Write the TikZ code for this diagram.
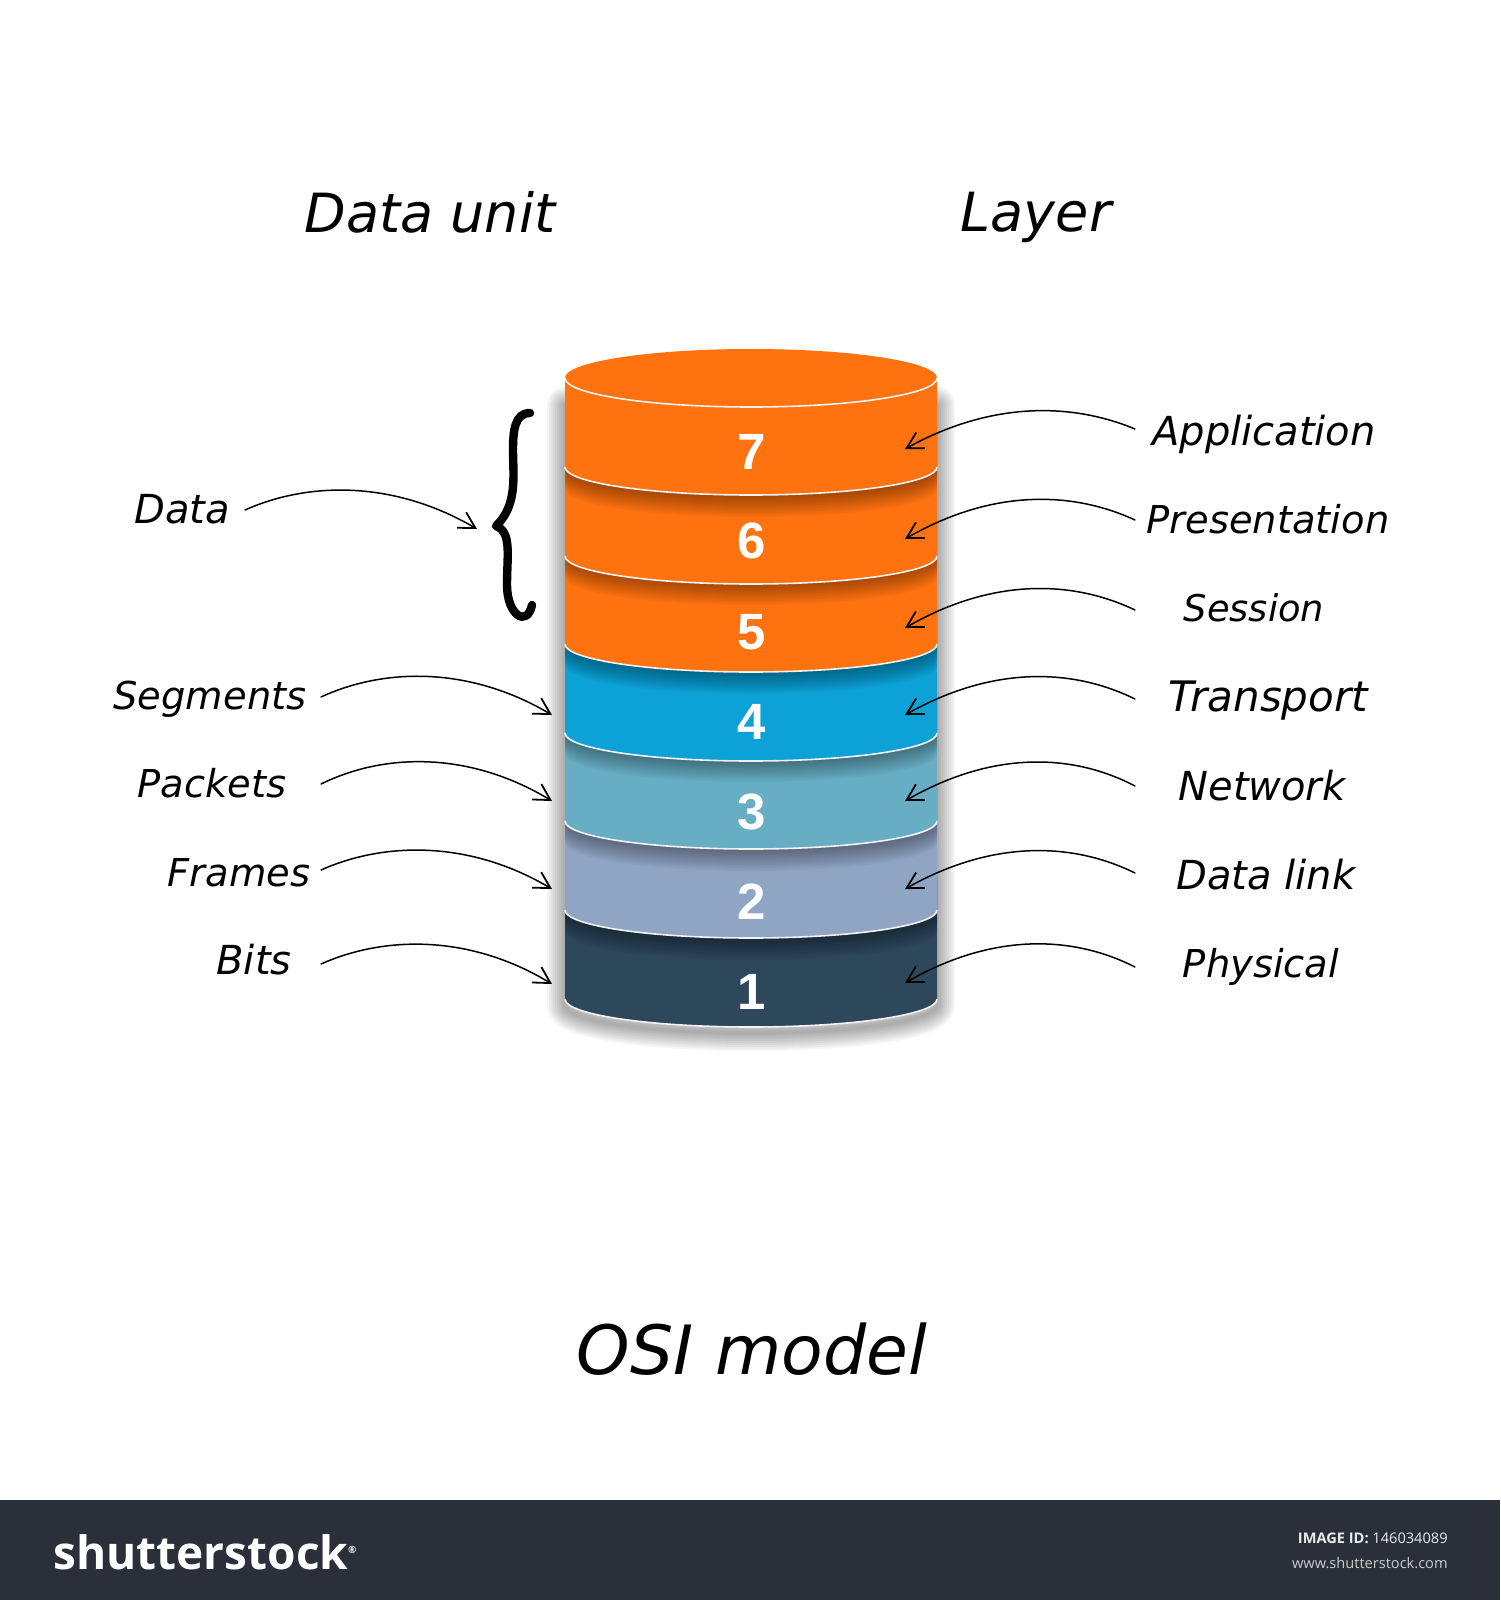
\documentclass[tikz,border=0pt]{standalone}
\usepackage{fontspec}
\setmainfont{Liberation Sans}
\newfontfamily\hand{DejaVu Sans Oblique}
\newfontfamily\logofont{Open Sans}
\usetikzlibrary{arrows.meta}
\definecolor{orangeL}{HTML}{FF7210}
\definecolor{blueL}{HTML}{0CA2D8}
\definecolor{tealL}{HTML}{67AEC4}
\definecolor{lilacL}{HTML}{90A4C4}
\definecolor{darkL}{HTML}{2D475B}
\definecolor{footbar}{HTML}{2A2F3A}
\tikzset{
  x=0.5pt,y=-0.5pt,
  lab/.style={font=\hand\fontsize{20}{24}\selectfont,inner sep=0pt,text=black},
  labS/.style={font=\hand\fontsize{18.4}{24}\selectfont,inner sep=0pt,text=black},
  labM/.style={font=\hand\fontsize{19.2}{24}\selectfont,inner sep=0pt,text=black},
  labL/.style={font=\hand\fontsize{21}{24}\selectfont,inner sep=0pt,text=black},
  head/.style={font=\hand\fontsize{27}{32}\selectfont,inner sep=0pt,text=black},
  num/.style={font=\bfseries\fontsize{25.5}{30}\selectfont,text=white,inner sep=0pt},
  conn/.style={draw=black,line width=0.75pt,line cap=round,
    -{Straight Barb[length=8pt,width=9pt,line width=0.9pt]}},
  rim/.style={draw=white!90!gray,line width=0.8pt}
}
\newcommand{\frontarc}{arc[start angle=180,end angle=360,x radius=93pt,y radius=14pt]}
\newcommand{\rightconn}[4]{% name, start y, control y, tip y
  \coordinate (#1s) at (1135,#2);
  \coordinate (#1t) at (905,#4);
  \draw[conn] (#1s) .. controls (1070,#3) and (990,#3) .. (#1t);
}
\newcommand{\leftconn}[6]{% name, start x, start y, control y, tip x, tip y
  \coordinate (#1s) at (#2,#3);
  \coordinate (#1t) at (#5,#6);
  \draw[conn] (#1s) .. controls (#2+65,#4) and (#2+150,#4) .. (#1t);
}
\begin{document}
\begin{tikzpicture}
\useasboundingbox (0,0) rectangle (1500,1600);
\fill[white] (0,0) rectangle (1500,1600);
% soft shadow of the stack
\foreach \r in {18,16,...,2}{
  \draw[black,opacity=.04,line width=\r pt,line join=round]
    (565,405) -- (565,1005) \frontarc -- (937,405) -- cycle;
}
% layers, bottom first
\foreach \b/\c in {1027/darkL,938/lilacL,849/tealL,761/blueL,672/orangeL,584/orangeL,495/orangeL}{
  \pgfmathsetmacro\e{\b-28}
  \pgfmathsetmacro\t{max(\b-150,378)}
  \fill[\c] (565,\t) -- (565,\e) \frontarc -- (937,\t) -- cycle;
  \begin{scope}
    \clip (565,\t) -- (565,\e) \frontarc -- (937,\t) -- cycle;
    \pgfmathsetmacro\ue{\e-89}
    \ifnum\b=495\relax\else
    \foreach \k in {2,4,...,22}{
      \pgfmathsetmacro\ee{\ue+\k}
      \fill[black,opacity=.035] (565,\t-50) -- (565,\ee) \frontarc -- (937,\t-50) -- cycle;
    }
    \fi
  \end{scope}
  \draw[rim] (565,\e) \frontarc;
}
% top face
\fill[orangeL] (751,378) ellipse[x radius=93pt,y radius=14.5pt];
\draw[rim] (565,378) arc[start angle=180,end angle=360,x radius=93pt,y radius=14.5pt];
% numbers
\node[num] (n7) at (752,452) {7};
\node[num] (n6) at (752,541) {6};
\node[num] (n5) at (752,632) {5};
\node[num] (n4) at (752,722) {4};
\node[num] (n3) at (752,812) {3};
\node[num] (n2) at (752,902) {2};
\node[num] (n1) at (752,992) {1};
% titles
\node[head] (tData) at (430,212) {Data unit};
\node[head] (tLayer) at (1036,217) {Layer};
\node[font=\hand\fontsize{34}{40}\selectfont,inner sep=0pt] (tOSI) at (752,1349) {OSI model};
% right labels
\node[lab] (lApp) at (1264,434) {Application};
\node[labM] (lPre) at (1268,519) {Presentation};
\node[labS] (lSes) at (1254,608) {Session};
\node[labL] (lTra) at (1268,701) {Transport};
\node[lab] (lNet) at (1262,786) {Network};
\node[lab] (lDat) at (1266,875) {Data link};
\node[labM] (lPhy) at (1261,967) {Physical};
% left labels
\node[lab] (uData) at (182,509) {Data};
\node[labM] (uSeg) at (210,699) {Segments};
\node[labM] (uPac) at (212,783) {Packets};
\node[labM] (uFra) at (239,873) {Frames};
\node[lab] (uBit) at (254,960) {Bits};
% right connectors
\rightconn{a}{429}{402}{449}
\rightconn{b}{520}{490}{539}
\rightconn{c}{610}{579}{628}
\rightconn{d}{699}{667}{715}
\rightconn{e}{786}{752}{801}
\rightconn{f}{873}{841}{889}
\rightconn{g}{967}{934}{983}
% left connectors
\leftconn{p}{245}{510}{481}{477}{529}
\leftconn{q}{321}{697}{667}{552}{715}
\leftconn{r}{321}{784}{752}{552}{801}
\leftconn{s}{321}{870}{841}{552}{889}
\leftconn{u}{321}{964}{935}{552}{984}
% brace
\draw[black,line width=4.2pt,line cap=round,line join=round]
  (530,413) .. controls (515,413) and (513,430) .. (513,450)
  .. controls (513,475) and (518,505) .. (496,526)
  .. controls (512,532) and (507,555) .. (507,585)
  .. controls (507,615) and (527,628) .. (532,605);
% footer
\fill[footbar] (0,1500) rectangle (1500,1600);
\node[font=\logofont\bfseries\fontsize{23}{28}\selectfont,text=white,inner sep=0pt,anchor=west] (logo) at (53,1552) {shutterstock\raisebox{8pt}{\fontsize{5}{6}\selectfont®}};
\node[font=\logofont\fontsize{7.3}{10}\selectfont,text=white!92!black,inner sep=0pt,anchor=east] (imgid) at (1448,1538) {\textbf{IMAGE ID:} 146034089};
\node[font=\logofont\fontsize{7.3}{10}\selectfont,text=white!80!black,inner sep=0pt,anchor=east] (www) at (1448,1563) {www.shutterstock.com};
\end{tikzpicture}
\end{document}
